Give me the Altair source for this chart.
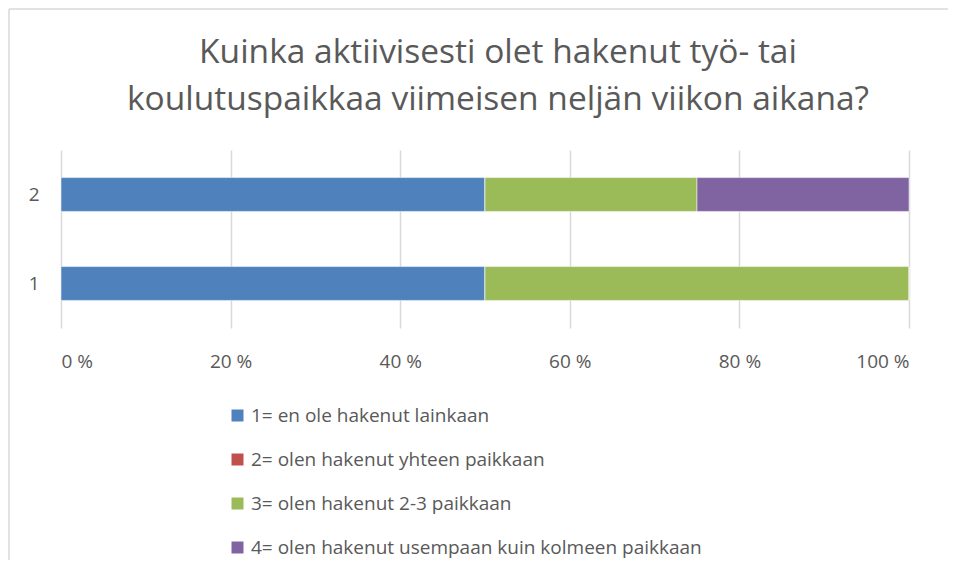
import altair as alt
import pandas as pd

rows = ["1", "2"]
categories = [
    "1= en ole hakenut lainkaan",
    "2= olen hakenut yhteen paikkaan",
    "3= olen hakenut 2-3 paikkaan",
    "4= olen hakenut usempaan kuin kolmeen paikkaan",
]
colors = ["#4F81BD", "#C0504D", "#9BBB59", "#8064A2"]
values_row1 = [50, 0, 50, 0]
values_row2 = [50, 0, 25, 25]
title_lines = ["Kuinka aktiivisesti olet hakenut työ- tai",
               "koulutuspaikkaa viimeisen neljän viikon aikana?"]

records = []
for r, vals in zip(rows, [values_row1, values_row2]):
    for i, (c, v) in enumerate(zip(categories, vals)):
        records.append({"row": r, "cat": c, "order": i, "value": v})
df = pd.DataFrame(records)

FONT = "Open Sans"
W, H = 848, 178

bars = alt.Chart(df).mark_bar(stroke="white", strokeWidth=0.5).encode(
    y=alt.Y("row:N", sort="descending", title=None,
            scale=alt.Scale(paddingInner=0.62, paddingOuter=0.31),
            axis=alt.Axis(labelFontSize=19, labelColor="#595959", labelPadding=22,
                          ticks=False, domain=False, labelFont=FONT)),
    x=alt.X("value:Q", stack="normalize", title=None,
            scale=alt.Scale(domain=[0, 1]),
            axis=alt.Axis(values=[0, 0.2, 0.4, 0.6, 0.8, 1.0],
                          labelExpr="format(datum.value*100, 'd') + ' %'",
                          labelFontSize=19, labelColor="#595959", labelPadding=24,
                          ticks=False, domain=False, grid=True, gridColor="#D9D9D9",
                          gridWidth=1.5, labelFont=FONT)),
    color=alt.Color("cat:N", scale=alt.Scale(domain=categories, range=colors),
                    legend=alt.Legend(title=None, orient="none", legendX=167, legendY=256,
                                      direction="vertical", symbolType="square",
                                      symbolSize=144, symbolStrokeWidth=0,
                                      labelFontSize=19, labelColor="#595959",
                                      labelFont=FONT, rowPadding=24, labelLimit=700)),
    order=alt.Order("order:Q"),
)

one = pd.DataFrame({"a": [0]})

top_line = alt.Chart(one).mark_rule(color="#D9D9D9", strokeWidth=1.5).encode(
    x=alt.value(-52), x2=alt.value(W + 39), y=alt.value(-141)
)
left_line = alt.Chart(one).mark_rule(color="#D9D9D9", strokeWidth=1.5).encode(
    x=alt.value(-52), y=alt.value(-141), y2=alt.value(H + 240)
)

title = alt.Chart(one).mark_text(
    font=FONT, fontSize=33.5, color="#595959", align="center",
    baseline="alphabetic", lineHeight=47
).encode(
    x=alt.value(437), y=alt.value(-87), text=alt.value(title_lines)
)

chart = alt.layer(top_line, left_line, title, bars).properties(
    width=W, height=H,
    padding={"left": 53, "top": 142, "right": 39, "bottom": 232},
    autosize=alt.AutoSizeParams(type="none"),
).configure_view(stroke=None)

chart.save("out.html", embed_options={"renderer": "svg", "actions": False})
